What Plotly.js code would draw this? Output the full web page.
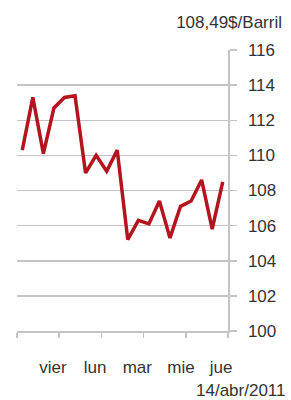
<!DOCTYPE html>
<html>
<head>
<meta charset="utf-8">
<script src="https://cdn.plot.ly/plotly-3.0.1.min.js"></script>
<style>html,body{margin:0;padding:0;background:#fff;}#chart{width:291px;height:400px;}</style>
</head>
<body>
<div id="chart"></div>
<script>
// Trading sessions (index) and Brent price, $/barril
const sessions = [0,1,2,3,4,5,6,7,8,9,10,11,12,13,14,15,16,17,18,19];
const prices = [110.3,113.3,110.1,112.7,113.3,113.4,109.0,110.0,109.1,110.3,105.2,106.3,106.1,107.4,105.3,107.1,107.4,108.6,105.8,108.49];
// Week boundaries (tick marks) and weekday labels
const weekBounds = [-0.5,3.5,7.5,11.5,15.5,19.5];
const dayLabelPos = [2.9,6.9,10.9,15.05,18.85];
const dayLabels = ["vier","lun","mar","mie","jue"];
const yTicks = [100,102,104,106,108,110,112,114,116];
const titleText = "108,49$/Barril";
const dateText = "14/abr/2011";

const grey = "#c4c4c4";
const font = {family: "Liberation Sans, Arial, sans-serif", size: 17, color: "#333"};

const traces = [
  {x: sessions, y: prices, xaxis: "x", yaxis: "y", type: "scatter", mode: "lines",
   line: {color: "#b3141e", width: 3.5}, hoverinfo: "skip"},
  {x: sessions, y: prices, xaxis: "x2", yaxis: "y", type: "scatter", mode: "lines",
   line: {color: "rgba(0,0,0,0)", width: 0}, hoverinfo: "skip", showlegend: false}
];

const layout = {
  width: 291, height: 400,
  margin: {l: 17, r: 63, t: 50, b: 69},
  paper_bgcolor: "#fff", plot_bgcolor: "#fff",
  showlegend: false,
  font: font,
  title: {text: titleText, x: 0.969, xanchor: "right", xref: "container",
          y: 0.945, yanchor: "middle", yref: "container", font: font},
  xaxis: {range: [-0.5, 19.5], tickvals: weekBounds, showticklabels: false,
          ticks: "outside", ticklen: 5, tickcolor: grey, tickwidth: 1.5,
          showgrid: false, zeroline: false, showline: true, linecolor: grey, linewidth: 1.5},
  xaxis2: {range: [-0.5, 19.5], overlaying: "x", anchor: "y", side: "bottom",
           tickvals: dayLabelPos, ticktext: dayLabels, ticks: "",
           ticklabelstandoff: 24, showgrid: false, zeroline: false, showline: false,
           tickfont: font},
  yaxis: {range: [100, 116], side: "right", tickvals: yTicks,
          ticks: "outside", ticklen: 7, tickcolor: grey, tickwidth: 1.5,
          ticklabelstandoff: 8, showgrid: true, gridcolor: grey, gridwidth: 1.5,
          zeroline: false, showline: true, linecolor: grey, linewidth: 1.5,
          tickfont: font},
  annotations: [
    {text: dateText, xref: "paper", yref: "paper", x: 1.28, y: -0.21,
     xanchor: "right", yanchor: "middle", showarrow: false, font: font}
  ]
};

Plotly.newPlot("chart", traces, layout, {staticPlot: true, displayModeBar: false});
</script>
</body>
</html>
